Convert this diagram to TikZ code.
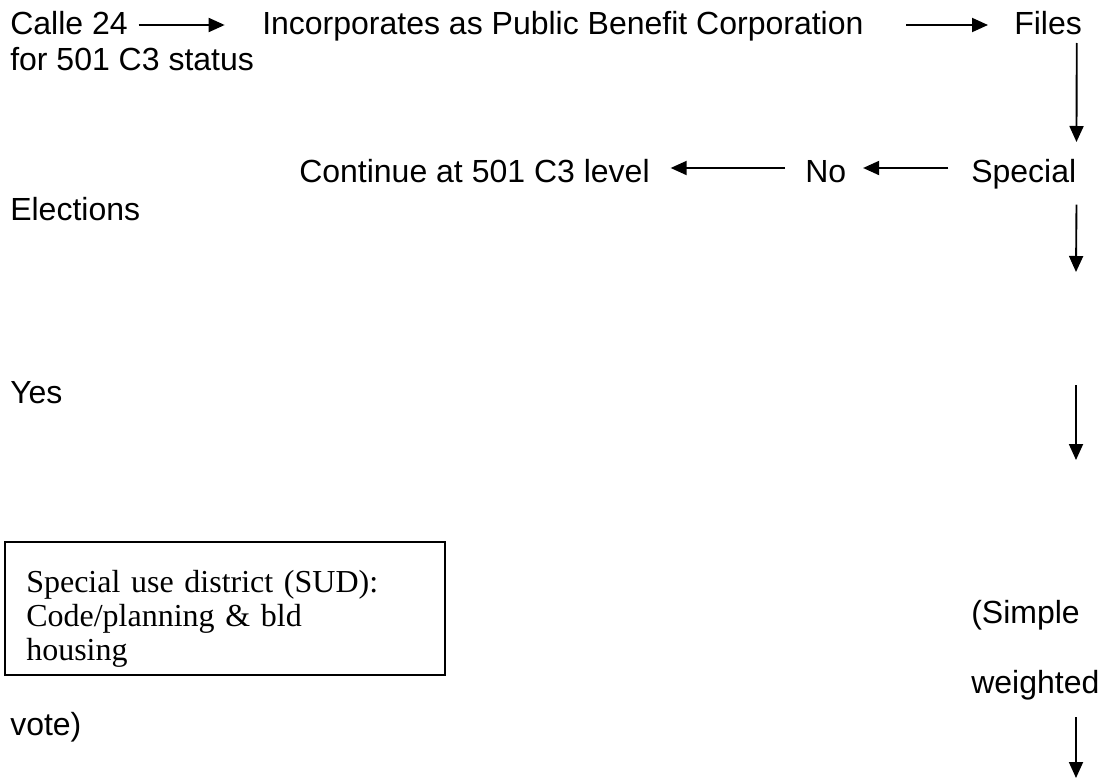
\documentclass[tikz,border=0pt]{standalone}
\usepackage{fontspec}
\setmainfont{Liberation Sans}
\newfontfamily\boxfont{Liberation Serif}
\usetikzlibrary{arrows.meta}

\tikzset{
	txt/.style={anchor=base west,inner sep=0pt,font=\fontsize{24}{28}\selectfont},
	flow/.style={-{Triangle[length=12pt,width=10.5pt]},line width=1.4pt},
	sudbox/.style={draw,line width=1.4pt,anchor=north west,inner xsep=16pt,inner ysep=0pt,
		align=left,text width=298pt,font=\boxfont\fontsize{24}{25.5}\selectfont}
}

\begin{document}
\begin{tikzpicture}[x=0.75pt,y=-0.75pt]
			\useasboundingbox (0,0) rectangle (1104,778);

			% first row
			\node[txt] (calle) at (10,35) {Calle 24};
			\node[txt] (status) at (10,70) {for 501 C3 status};
			\node[txt] (incorp) at (262,35) {Incorporates as Public Benefit Corporation};
			\node[txt] (files) at (1014,35) {Files};
			\draw[flow] ([xshift=8pt,yshift=7.5pt]calle.base east) -- ([xshift=-28pt,yshift=7.5pt]incorp.base west);
			\draw[flow] ([xshift=32pt,yshift=7.5pt]incorp.base east) -- ([xshift=-19.5pt,yshift=7.5pt]files.base west);

			% special elections, no branch
			\node[txt] (cont) at (299,182) {Continue at 501 C3 level};
			\node[txt] (no) at (805,182) {No};
			\node[txt] (special) at (971,182) {Special};
			\node[txt] (elections) at (10,220) {Elections};
			\draw[flow] ([xshift=-4pt,yshift=-6pt]files.base east) -- ([yshift=30pt]special.base east);
			\draw[flow] ([xshift=-17pt,yshift=10.5pt]special.base west) -- ([xshift=12.5pt,yshift=10.5pt]no.base east);
			\draw[flow] ([xshift=-15pt,yshift=10.5pt]no.base west) -- ([xshift=15.5pt,yshift=10.5pt]cont.base east);

			% yes branch
			\coordinate (drop1) at (1076,272);
			\coordinate (drop2a) at (1076,385);
			\coordinate (drop2b) at (1076,460);
			\node[txt] (yes) at (10,403) {Yes};
			\draw[flow] ([yshift=-17pt]special.base east) -- (drop1);
			\draw[flow] (drop2a) -- (drop2b);

			% SUD
			\node[sudbox] (sud) at (4,541) {
				\rule{0pt}{38pt}Special use district (SUD):\\
				Code/planning \& bld\\
				housing\rule[-11pt]{0pt}{11pt}
			};

			% vote
			\coordinate (drop3a) at (1076,717);
			\coordinate (drop3b) at (1076,778);
			\node[txt] (simple) at (971,623) {(Simple};
			\node[txt] (weighted) at (971,693) {weighted};
			\node[txt] (vote) at (10,735) {vote)};
			\draw[flow] (drop3a) -- (drop3b);
		\end{tikzpicture}
\end{document}
